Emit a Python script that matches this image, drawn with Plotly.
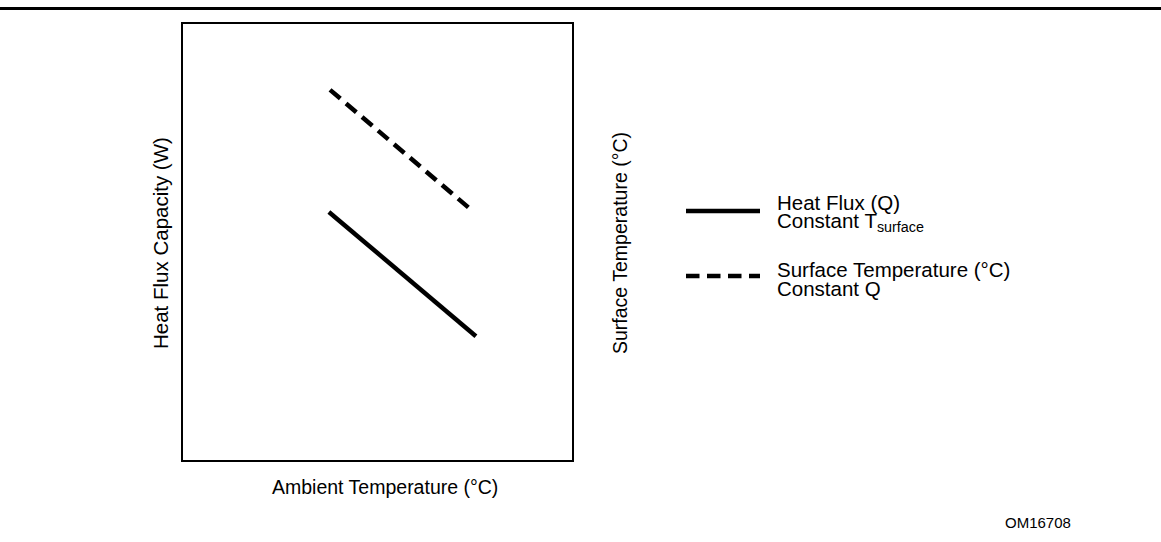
import plotly.graph_objects as go

# Figure geometry (pixels)
W, H = 1161, 542
BOX_L, BOX_R, BOX_T, BOX_B = 183, 572, 24, 460

# Schematic data on a 0-100 relative scale
ambient_heat_flux = [37.5, 75.3]
heat_flux = [56.9, 28.4]
ambient_surface = [37.8, 73.8]
surface_temp = [84.9, 57.6]

legend_labels = [
    ("Heat Flux (Q)", "Constant T<sub>surface</sub>"),
    ("Surface Temperature (°C)", "Constant Q"),
]
x_title = "Ambient Temperature (°C)"
y_title_left = "Heat Flux Capacity (W)"
y_title_right = "Surface Temperature (°C)"
figure_id = "OM16708"

FONT = "Liberation Sans, Arial, sans-serif"
DASH = "13.5px,7.5px"


def px(x):
    return x / W


def py(y):
    return 1 - y / H


fig = go.Figure()
fig.add_trace(go.Scatter(
    x=ambient_heat_flux, y=heat_flux, mode="lines",
    line=dict(color="black", width=4.5), showlegend=False, yaxis="y",
))
fig.add_trace(go.Scatter(
    x=ambient_surface, y=surface_temp, mode="lines",
    line=dict(color="black", width=4.5, dash=DASH), showlegend=False, yaxis="y2",
))

axis_common = dict(
    range=[0, 100], showgrid=False, zeroline=False, showticklabels=False,
    ticks="", showline=True, linecolor="black", linewidth=1.5,
)
fig.update_layout(
    width=W, height=H, margin=dict(l=0, r=0, t=0, b=0),
    paper_bgcolor="white", plot_bgcolor="white",
    xaxis=dict(domain=[px(BOX_L), px(BOX_R)], mirror=True, **axis_common),
    yaxis=dict(domain=[py(BOX_B), py(BOX_T)], mirror=True, **axis_common),
    yaxis2=dict(overlaying="y", side="right", **axis_common),
    font=dict(family=FONT, size=20, color="black"),
)

shapes = [
    # rule across the top of the page
    dict(type="line", xref="paper", yref="paper", x0=0, x1=1,
         y0=py(8.5), y1=py(8.5), line=dict(color="black", width=3)),
    # legend keys
    dict(type="line", xref="paper", yref="paper", x0=px(686), x1=px(760),
         y0=py(211), y1=py(211), line=dict(color="black", width=4.5)),
    dict(type="line", xref="paper", yref="paper", x0=px(686), x1=px(760),
         y0=py(276), y1=py(276), line=dict(color="black", width=4.5, dash=DASH)),
]
fig.update_layout(shapes=shapes)

annotations = [
    dict(text=y_title_left, x=px(160), y=py(243), textangle=-90, font=dict(size=20.5)),
    dict(text=y_title_right, x=px(620), y=py(243), textangle=-90, font=dict(size=19.5)),
    dict(text=x_title, x=px(385), y=py(487), font=dict(size=19.5)),
    dict(text=figure_id, x=px(1038), y=py(522), font=dict(size=15)),
]
for (line1, line2), yc in zip(legend_labels, [203, 269]):
    annotations.append(dict(text=line1, x=px(775), y=py(yc), xanchor="left",
                            font=dict(size=20.5)))
    annotations.append(dict(text=line2, x=px(775), y=py(yc + 19), xanchor="left",
                            font=dict(size=20.5)))

for a in annotations:
    a.setdefault("xanchor", "center")
    a.update(xref="paper", yref="paper", yanchor="middle", showarrow=False)
fig.update_layout(annotations=annotations)

fig.write_html("out.html")
